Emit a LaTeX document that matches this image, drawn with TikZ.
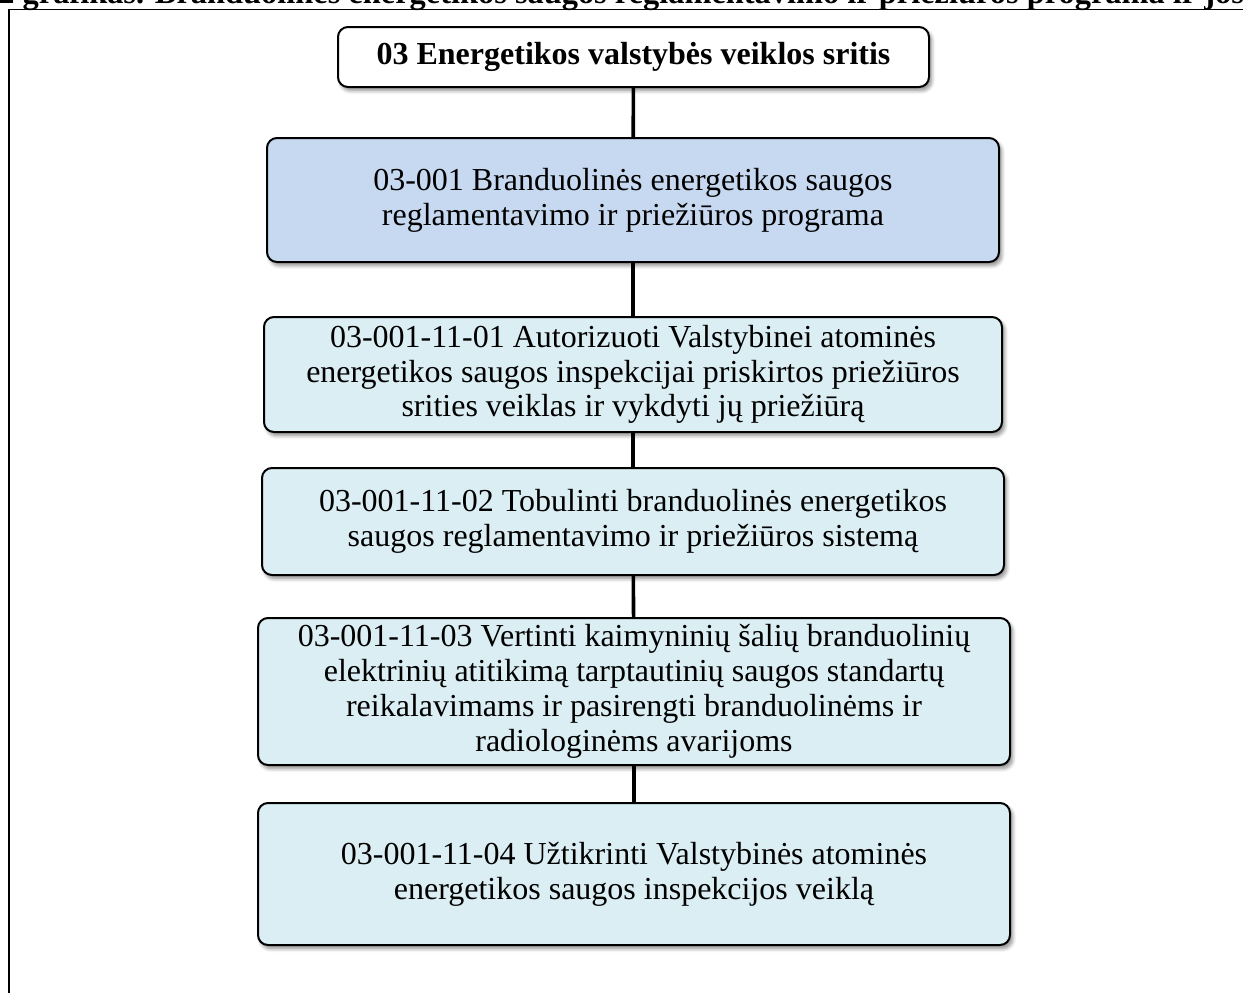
\documentclass[tikz,border=0pt]{standalone}
\usepackage{fontspec}
\setmainfont{Liberation Serif}
\usetikzlibrary{positioning}
\usetikzlibrary{shadows.blur}
\definecolor{progblue}{RGB}{198,217,241}
\definecolor{taskblue}{RGB}{219,238,244}
\tikzset{
    boxw/.style = {rectangle, rounded corners=5pt, line width=1pt, draw=black, align=center, fill=white, inner sep=0pt, font=\fontsize{16}{17.4}\selectfont\bfseries, text=black, blur shadow={shadow xshift=1.3pt, shadow yshift=-1.8pt, shadow blur steps=6, shadow opacity=45}},
    boxb/.style = {boxw, fill=progblue, font=\fontsize{16}{17.4}\selectfont},
    boxc/.style = {boxw, fill=taskblue, font=\fontsize{16}{17.4}\selectfont},
    edgek/.style = {-, line width=1.8pt, black},
    frameline/.style = {line width=0.8pt, black},
    titletext/.style = {inner sep=0pt, font=\fontsize{16.2}{17.4}\selectfont\bfseries}
}
\begin{document}
\begin{tikzpicture}[x=0.5pt, y=-0.5pt]
\useasboundingbox (0,0) rectangle (1243,992);
\clip (0,0) rectangle (1243,992);
%
\node[titletext, anchor=base west] (title) at (-2,3.5) {2 grafikas. Branduolinės energetikos saugos reglamentavimo ir priežiūros programa ir jos};
\draw[frameline] (9,1100) -- (9,9.5) -- (1300,9.5);
%
\node[boxw, minimum width=295.5pt, minimum height=30pt] at (633.5,57) (area) {03 Energetikos valstybės veiklos sritis};
\node[boxb, minimum width=366pt, minimum height=62pt] at (633,200) (prog) {03-001 Branduolinės energetikos saugos\\reglamentavimo ir priežiūros programa};
\node[boxc, minimum width=369pt, minimum height=57.5pt] at (633,374.5) (task1) {03-001-11-01 Autorizuoti Valstybinei atominės\\energetikos saugos inspekcijai priskirtos priežiūros\\srities veiklas ir vykdyti jų priežiūrą};
\node[boxc, minimum width=371pt, minimum height=53.5pt] at (633,521.5) (task2) {03-001-11-02 Tobulinti branduolinės energetikos\\saugos reglamentavimo ir priežiūros sistemą};
\node[boxc, minimum width=376pt, minimum height=73.5pt] at (634,691.5) (task3) {03-001-11-03 Vertinti kaimyninių šalių branduolinių\\elektrinių atitikimą tarptautinių saugos standartų\\reikalavimams ir pasirengti branduolinėms ir\\radiologinėms avarijoms};
\node[boxc, minimum width=376pt, minimum height=71pt] at (634,874) (task4) {03-001-11-04 Užtikrinti Valstybinės atominės\\energetikos saugos inspekcijos veiklą};
%
\draw[edgek] (area) -- (prog);
\draw[edgek] (prog) -- (task1);
\draw[edgek] (task1) -- (task2);
\draw[edgek] (task2) -- (task3);
\draw[edgek] (task3) -- (task4);
\end{tikzpicture}
\end{document}
